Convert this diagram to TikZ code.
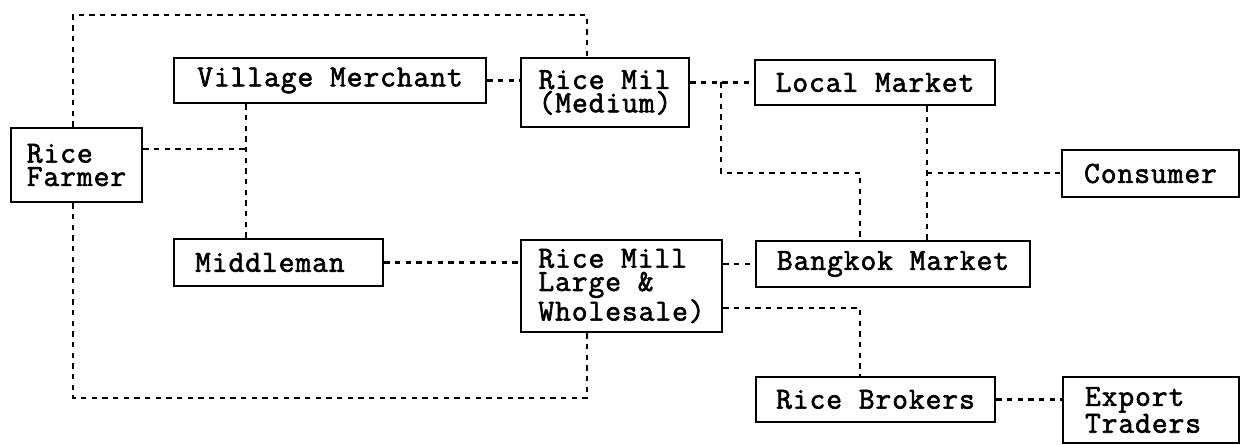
\documentclass[tikz,border=0pt]{standalone}
\usepackage{fontspec}
\setmonofont{Latin Modern Mono}[FakeBold=2, LetterSpace=3]
\begin{document}
\begin{tikzpicture}[x=0.75pt,y=-0.75pt,
  box/.style={draw=black, line width=1.8pt, rectangle, inner sep=0pt, align=left,
    font=\ttfamily\fontsize{23}{17.5}\selectfont},
  wh/.style 2 args={minimum width=#1*0.75pt, minimum height=#2*0.75pt},
  conn/.style={draw=black, line width=1.7pt, dash pattern=on 4pt off 4pt}]
\useasboundingbox[fill=white] (0,0) rectangle (1242,445);
% boxes
\node[box, wh={131}{74}] (RF) at (76.5,165) {Rice\\Farmer};
\node[box, wh={312}{45}] (VM) at (330,80.5) {Village Merchant};
\node[box, wh={168}{69}] (RMM) at (605,92.5) {Rice Mil\\(Medium)};
\node[box, wh={240}{45}] (LM) at (875,82.5) {Local Market};
\node[box, wh={177}{47}] (CO) at (1150.5,173.5) {Consumer};
\node[box, wh={209}{47}, text width=125pt] (MM) at (278.5,262.5) {Middleman};
\node[box, wh={201}{92}] (RML) at (621.5,286) {Rice Mill\\Large \&\\Wholesale)};
\node[box, wh={274}{46}] (BM) at (893,264) {Bangkok Market};
\node[box, wh={239}{45}] (RB) at (875.5,399.5) {Rice Brokers};
\node[box, wh={176}{66}, text width=99pt] (ET) at (1151,410) {Export\\Traders};
% junction coordinates
\coordinate (tl) at (73,15);
\coordinate (tr) at (587,15);
\coordinate (bl) at (73,398);
\coordinate (br) at (587,398);
\coordinate (rfj) at (246,149);
\coordinate (j1) at (721,173);
\coordinate (j2) at (860,173);
\coordinate (lmx) at (927,173);
\coordinate (j3) at (860,308);
% connectors
\draw[conn] (RF.north -| tl) -- (tl) -- (tr) -- (RMM.north -| tr);
\draw[conn] (RF.south -| bl) -- (bl) -- (br) -- (RML.south -| br);
\draw[conn] (VM.south -| rfj) -- (MM.north -| rfj);
\draw[conn] (RF.east |- rfj) -- (rfj);
\draw[conn] (VM.east) -- (VM.east -| RMM.west);
\draw[conn] (LM.west -| RMM.east) -- (LM.west);
\draw[conn] (LM.west -| j1) -- (j1) -- (j2) -- (BM.north -| j2);
\draw[conn] (LM.south -| lmx) -- (BM.north -| lmx);
\draw[conn] (lmx) -- (CO.west |- lmx);
\draw[conn] (MM.east) -- (MM.east -| RML.west);
\draw[conn] (BM.west -| RML.east) -- (BM.west);
\draw[conn] (RML.east |- j3) -- (j3) -- (RB.north -| j3);
\draw[conn] (RB.east) -- (RB.east -| ET.west);
\end{tikzpicture}
\end{document}
